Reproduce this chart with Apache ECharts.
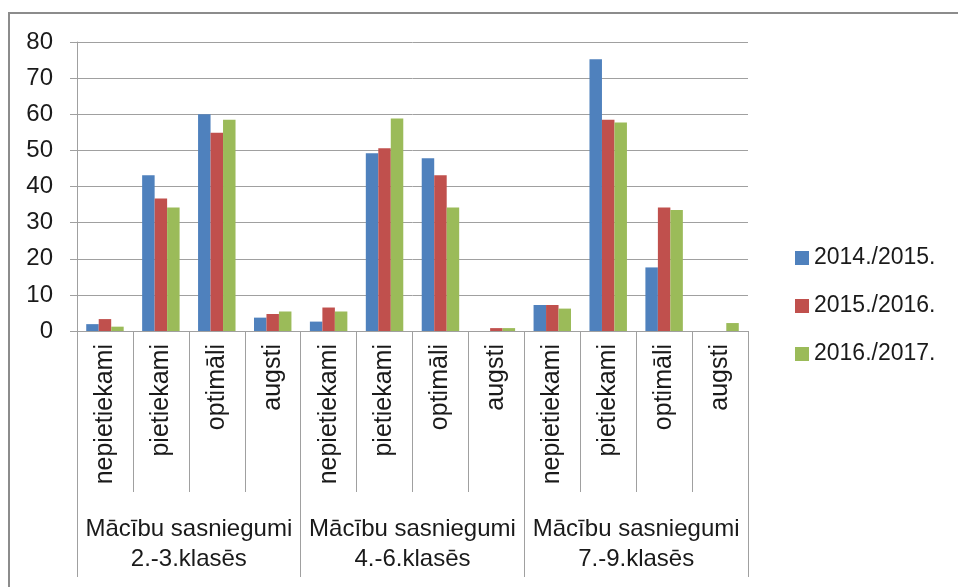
<!DOCTYPE html>
<html>
<head>
<meta charset="utf-8">
<script src="https://cdn.jsdelivr.net/npm/echarts@6/dist/echarts.min.js"></script>
<style>
html,body{margin:0;padding:0;background:#fff;}
#chart{width:958px;height:587px;}
</style>
</head>
<body>
<div id="chart"></div>
<script>
const categories = ['nepietiekami','pietiekami','optimāli','augsti','nepietiekami','pietiekami','optimāli','augsti','nepietiekami','pietiekami','optimāli','augsti'];
const groups = ['Mācību sasniegumi\n2.-3.klasēs','Mācību sasniegumi\n4.-6.klasēs','Mācību sasniegumi\n7.-9.klasēs'];
const seriesNames = ['2014./2015.','2015./2016.','2016./2017.'];
const s2014 = [1.9, 43.1, 60.0, 3.7, 2.6, 49.2, 47.8, 0, 7.2, 75.2, 17.6, 0];
const s2015 = [3.3, 36.7, 54.9, 4.7, 6.5, 50.6, 43.1, 0.8, 7.2, 58.5, 34.2, 0];
const s2016 = [1.2, 34.2, 58.5, 5.4, 5.4, 58.8, 34.2, 0.8, 6.2, 57.7, 33.5, 2.2];
const colors = ['#4F81BD','#C0504D','#9BBB59'];

const chart = echarts.init(document.getElementById('chart'));
const lineColor = '#a0a0a0';
const textColor = '#1a1a1a';
const font = 'Liberation Sans';
chart.setOption({
  animation: false,
  color: colors,
  graphic: [{
    type: 'polyline',
    shape: {points: [[9,620],[9,13],[970,13]]},
    style: {stroke: '#8c8c8c', lineWidth: 2, fill: null},
    silent: true
  }],
  grid: {left: 77, right: 210, top: 42, bottom: 256, containLabel: false},
  legend: {
    orient: 'vertical',
    left: 790,
    top: 241,
    itemWidth: 14,
    itemHeight: 14,
    itemGap: 24,
    icon: 'rect',
    textStyle: {fontFamily: font, fontSize: 23, color: textColor, lineHeight: 24},
    data: seriesNames
  },
  xAxis: [{
    type: 'category',
    data: categories,
    position: 'bottom',
    axisLine: {show: true, lineStyle: {color: lineColor, width: 1}},
    axisTick: {show: true, alignWithLabel: false, interval: 0, length: 161, lineStyle: {color: lineColor}},
    axisLabel: {interval: 0, rotate: 90, margin: 13, fontFamily: font, fontSize: 25, color: textColor}
  }, {
    type: 'category',
    data: groups,
    position: 'bottom',
    axisLine: {show: false},
    axisTick: {show: true, alignWithLabel: false, interval: 0, length: 246, lineStyle: {color: lineColor}},
    axisLabel: {interval: 0, margin: 183, fontFamily: font, fontSize: 24, lineHeight: 30, color: textColor}
  }],
  yAxis: {
    type: 'value',
    min: 0, max: 80, interval: 10,
    axisLine: {show: true, lineStyle: {color: lineColor}},
    axisTick: {show: true, length: 7, lineStyle: {color: lineColor}},
    splitLine: {show: true, lineStyle: {color: lineColor, width: 1}},
    axisLabel: {margin: 24, fontFamily: font, fontSize: 24, color: textColor}
  },
  series: [s2014, s2015, s2016].map((d, i) => ({
    name: seriesNames[i],
    type: 'bar',
    xAxisIndex: 0,
    data: d,
    barGap: '0%',
    barCategoryGap: '33%',
    itemStyle: {color: colors[i]}
  }))
});
</script>
</body>
</html>
